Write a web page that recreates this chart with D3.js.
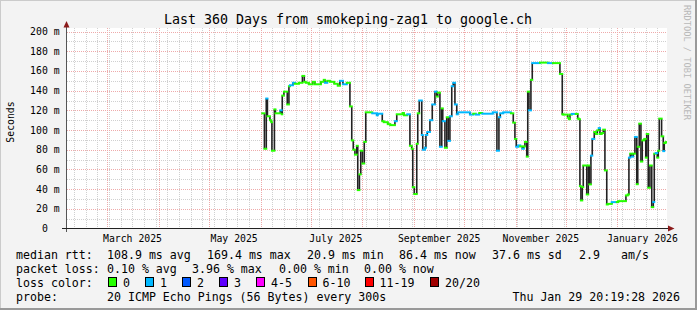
<!DOCTYPE html>
<html>
<head>
<meta charset="utf-8">
<script src="https://cdn.jsdelivr.net/npm/d3@7"></script>
<style>
html, body { margin: 0; padding: 0; background: #f3f3f3; }
svg text { font-family: "DejaVu Sans Mono", monospace; white-space: pre; }
</style>
</head>
<body>
<div id="chart"></div>
<script>
// median rtt steps, days after 2025-06-01 00:00 UTC
var stepDay = [0.6, 1.9, 3.0, 3.7, 5.2, 6.0, 6.4, 7.9, 8.5, 11.4, 12.3, 12.6, 13.6, 15.6, 16.6, 17.2, 19.0, 20.2, 22.6, 24.7,
    25.8, 26.7, 28.6, 30.9, 32.2, 35.8, 37.5, 38.2, 39.6, 41.2, 43.8, 45.9, 47.2, 49.0, 51.3, 53.2, 54.3, 55.2, 56.2, 57.3,
    57.9, 58.9, 59.7, 60.7, 61.8, 62.7, 66.6, 69.3, 69.9, 72.6, 73.5, 75.9, 77.4, 80.2, 81.3, 84.9, 85.6, 87.6, 89.2, 90.3,
    90.9, 91.8, 93.3, 93.9, 94.8, 96.3, 96.9, 98.2, 98.8, 99.6, 101.2, 102.6, 104.2, 105.3, 105.9, 107.2, 108.3, 108.9, 110.2, 111.3,
    112.2, 113.2, 114.3, 115.2, 116.2, 117.3, 117.9, 125.2, 127.2, 128.7, 130.8, 132.6, 138.9, 141.4, 142.6, 143.4, 145.2, 149.8, 151.2, 152.2,
    153.0, 154.2, 155.4, 156.6, 157.5, 158.2, 159.3, 159.9, 160.6, 161.8, 162.6, 167.2, 172.0, 175.0, 179.2, 180.6, 181.2, 183.9, 184.6, 185.2,
    186.3, 188.7, 189.9, 190.6, 191.2, 191.8, 192.6, 193.2, 195.3, 196.2, 196.8, 197.8, 198.6, 199.8, 200.7, 201.6, 202.5, 203.2, 204.3, 205.2,
    206.2, 207.3, 207.9, 210.3, 213.3, 214.2, 218.8, 219.9, 220.6, 221.4, 222.3, 223.2, 224.2, 225.3, 225.9, 226.8, 227.8, 228.6, 229.8, 230.7,
    231.3, 232.2, 233.2, 234.3, 235.2, 235.8, 236.7, 237.6, 238.2, 238.8, 240.2, 241.2, 241.8, 242.6];
var medianMs = [117, 81, 132, 114, 110, 108, 79, 121, 117, 120, 116, 135, 139, 126, 144.5, 145.5, 148, 147, 148, 155,
    149, 148, 146.5, 149, 146.5, 149, 151, 148, 150, 149, 147, 145, 150, 146.5, 148, 124, 89.5, 80, 75, 84,
    39, 55, 79, 66, 88, 118, 117, 115, 116.6, 109, 108, 106, 105, 109, 116, 117.3, 115, 116, 84, 81,
    42, 35, 86, 117, 130, 95, 80, 82, 95, 98, 110, 126, 139, 134, 138, 83, 122, 109, 82, 113,
    89, 114, 144.5, 148, 126, 116, 118, 115.7, 116.6, 115.7, 117.3, 116.6, 118, 79, 113, 117, 118, 117, 107.5, 91,
    83, 84.4, 83.4, 81, 83.4, 88, 73, 139, 120, 151, 168, 168.5, 168, 168, 157, 116, 115.7, 112.6, 111, 115.7,
    116.4, 116.4, 111.6, 111, 43, 28.5, 42, 64, 34.6, 64, 44.8, 74, 91, 98, 96, 99.7, 102, 96, 97, 100.4,
    59, 24.4, 25, 26.8, 26.8, 27.8, 33.6, 34.6, 72, 76, 73, 76, 93, 45, 83, 106.5, 68, 89.5, 91, 72,
    96, 41.4, 64, 21.7, 26.8, 76, 76.6, 72, 79, 111.6, 93.6, 78.6, 86.8, 87.8];
// loss bucket of each step (index into lossLabels)
var stepLoss = [0, 0, 1, 0, 0, 0, 0, 0, 0, 1, 0, 0, 0, 0, 0, 1, 1, 0, 0, 0,
    0, 0, 0, 0, 0, 0, 0, 1, 0, 0, 0, 0, 1, 1, 0, 0, 0, 0, 0, 0,
    0, 0, 0, 0, 0, 0, 1, 1, 1, 0, 0, 0, 0, 1, 0, 0, 0, 1, 0, 0,
    0, 0, 0, 0, 1, 1, 1, 1, 1, 1, 1, 1, 1, 0, 0, 1, 0, 1, 0, 0,
    1, 1, 1, 1, 1, 1, 1, 1, 0, 1, 0, 1, 1, 1, 1, 1, 1, 0, 0, 0,
    1, 1, 0, 1, 0, 0, 0, 0, 1, 0, 1, 0, 1, 0, 0, 0, 0, 0, 0, 0,
    1, 0, 0, 0, 0, 0, 0, 0, 0, 0, 0, 1, 1, 0, 0, 0, 1, 0, 0, 0,
    0, 0, 0, 1, 0, 0, 0, 0, 1, 0, 1, 0, 1, 0, 0, 0, 0, 0, 0, 0,
    0, 0, 0, 0, 1, 0, 1, 0, 0, 0, 0, 1, 0, 0];

var lossLabels = ["0", "1", "2", "3", "4-5", "6-10", "11-19", "20/20"];
var lossColors = ["#26ff00", "#00b8ff", "#0059ff", "#5e00ff", "#ff00ff", "#ff5500", "#ff0000", "#a00000"];
var yTicks = [0, 20, 40, 60, 80, 100, 120, 140, 160, 180, 200];

var title = "Last 360 Days from smokeping-zag1 to google.ch";
var rttStats = ["108.9 ms avg", "169.4 ms max", "20.9 ms min", "86.4 ms now", "37.6 ms sd", "2.9", "am/s"];
var lossStats = ["0.10 % avg", "3.96 % max", "0.00 % min", "0.00 % now"];
var probeText = "20 ICMP Echo Pings (56 Bytes) every 300s";
var stampText = "Thu Jan 29 20:19:28 2026";

var W = 697, H = 310;
var tEnd = new Date(Date.UTC(2026, 0, 29, 20, 19, 28));
var tStart = d3.utcDay.offset(tEnd, -360);
var day0 = Date.UTC(2025, 5, 1);

var x = d3.scaleUtc().domain([tStart, tEnd]).range([66, 666]);
var y = d3.scaleLinear().domain([0, 200]).range([228.5, 31.6]);

var svg = d3.select("#chart").append("svg")
    .attr("width", W)
    .attr("height", H);

// frame
svg.append("rect").attr("width", W).attr("height", H).attr("fill", "#f3f3f3");
svg.append("path").attr("d", "M0,309V0H697").attr("fill", "none").attr("stroke", "#cbcbcb").attr("stroke-width", 2);
svg.append("path").attr("d", "M0,309H696V0").attr("fill", "none").attr("stroke", "#999999").attr("stroke-width", 2);

// canvas
svg.append("rect").attr("x", 67).attr("y", 28).attr("width", 600).attr("height", 201).attr("fill", "#ffffff");

var grid = svg.append("g").attr("shape-rendering", "crispEdges");

// minor grid: weeks and 10 m
var weeks = d3.utcSunday.range(tStart, tEnd);
grid.selectAll(".vmin").data(weeks).enter().append("line")
    .attr("x1", function(d) { return Math.floor(x(d)) + 0.5; })
    .attr("x2", function(d) { return Math.floor(x(d)) + 0.5; })
    .attr("y1", 28).attr("y2", 228)
    .attr("stroke", "#d0d0d0").attr("stroke-dasharray", "1,1");
var minorY = d3.range(10, 200, 20);
grid.selectAll(".hmin").data(minorY).enter().append("line")
    .attr("x1", 67).attr("x2", 666)
    .attr("y1", function(d) { return Math.round(y(d)) + 0.5; })
    .attr("y2", function(d) { return Math.round(y(d)) + 0.5; })
    .attr("stroke", "#d0d0d0").attr("stroke-dasharray", "1,1");

// major grid: months and 20 m
var months = d3.utcMonth.range(tStart, tEnd);
grid.selectAll(".vmaj").data(months).enter().append("line")
    .attr("x1", function(d) { return Math.floor(x(d)) + 0.5; })
    .attr("x2", function(d) { return Math.floor(x(d)) + 0.5; })
    .attr("y1", 28).attr("y2", 228)
    .attr("stroke", "#eeaaaa").attr("stroke-dasharray", "1,1");
grid.selectAll(".hmaj").data(yTicks.slice(1)).enter().append("line")
    .attr("x1", 67).attr("x2", 666)
    .attr("y1", function(d) { return Math.round(y(d)) + 0.5; })
    .attr("y2", function(d) { return Math.round(y(d)) + 0.5; })
    .attr("stroke", "#eeaaaa").attr("stroke-dasharray", "1,1");

// rtt data
var pts = stepDay.map(function(d, i) {
    return { t: new Date(day0 + d * 864e5), v: medianMs[i], c: stepLoss[i] };
});
var plot = svg.append("g");
plot.selectAll(".vert").data(pts.slice(1)).enter().append("line")
    .attr("x1", function(d) { return x(d.t); })
    .attr("x2", function(d) { return x(d.t); })
    .attr("y1", function(d, i) { return y(pts[i].v); })
    .attr("y2", function(d) { return y(d.v); })
    .attr("stroke", "#222").attr("stroke-width", 1.6);
plot.selectAll(".hor").data(pts).enter().append("line")
    .attr("x1", function(d) { return x(d.t) - 1; })
    .attr("x2", function(d, i) { return (i < pts.length - 1 ? x(pts[i + 1].t) : x(tEnd)) + 1; })
    .attr("y1", function(d) { return y(d.v); })
    .attr("y2", function(d) { return y(d.v); })
    .attr("stroke", function(d) { return lossColors[d.c]; }).attr("stroke-width", 2);

// axes
var ax = svg.append("g").attr("shape-rendering", "crispEdges");
ax.append("line").attr("x1", 66.5).attr("x2", 66.5).attr("y1", 232).attr("y2", 25).attr("stroke", "#555");
ax.append("line").attr("x1", 62).attr("x2", 670).attr("y1", 228.5).attr("y2", 228.5).attr("stroke", "#222");
svg.append("path").attr("d", "M63.5,27.5L69.5,27.5L66.5,21Z").attr("fill", "#8b1a1a");
svg.append("path").attr("d", "M668,225.5L668,231.5L674.5,228.5Z").attr("fill", "#8b1a1a");

// y labels
svg.selectAll(".ylab").data(yTicks).enter().append("text")
    .attr("x", 59.6)
    .attr("y", function(d) { return y(d) + 3.5; })
    .attr("text-anchor", "end")
    .attr("font-size", "9.8px")
    .attr("fill", "#000")
    .text(function(d) { return d === 0 ? "0  " : d + " m"; });

// x labels every second month
var labMonths = months.filter(function(d) { return d.getUTCMonth() % 2 === 0; });
svg.selectAll(".xlab").data(labMonths).enter().append("text")
    .attr("x", function(d) { return x(new Date(+d + 14.75 * 864e5)); })
    .attr("y", 241.5)
    .attr("text-anchor", "middle")
    .attr("font-size", "9.8px")
    .text(d3.utcFormat("%B %Y"));

svg.append("text").attr("transform", "translate(13.5,122) rotate(-90)")
    .attr("text-anchor", "middle").attr("font-size", "9.8px").text("Seconds");

svg.append("text").attr("x", 348).attr("y", 23.5).attr("text-anchor", "middle")
    .attr("font-size", "13.3px").text(title);

svg.append("text").attr("transform", "translate(684,5) rotate(90)")
    .attr("font-size", "8.7px").attr("fill", "#b8b8b8").text("RRDTOOL / TOBI OETIKER");

// legend
var lg = svg.append("g").attr("font-size", "11.6px");
var rows = [258.5, 272.5, 286.5, 300.5];
lg.append("text").attr("x", 16).attr("y", rows[0]).text("median rtt:");
var rttX = [107, 207, 307, 399, 492, 579, 621];
rttStats.forEach(function(s, i) { lg.append("text").attr("x", rttX[i]).attr("y", rows[0]).text(s); });
lg.append("text").attr("x", 16).attr("y", rows[1]).text("packet loss:");
var lossX = [107, 192, 279, 364];
lossStats.forEach(function(s, i) { lg.append("text").attr("x", lossX[i]).attr("y", rows[1]).text(s); });
lg.append("text").attr("x", 16).attr("y", rows[2]).text("loss color:");
var swX = [108, 145, 182, 219, 256, 307.5, 364.5, 430];
lossLabels.forEach(function(s, i) {
    lg.append("rect").attr("x", swX[i] + 0.5).attr("y", 277.5).attr("width", 8).attr("height", 9)
        .attr("fill", lossColors[i]).attr("stroke", "#000").attr("shape-rendering", "crispEdges");
    lg.append("text").attr("x", swX[i] + 15).attr("y", rows[2]).text(s);
});
lg.append("text").attr("x", 16).attr("y", rows[3]).text("probe:");
lg.append("text").attr("x", 107).attr("y", rows[3]).text(probeText);
lg.append("text").attr("x", 680).attr("y", rows[3]).attr("text-anchor", "end").text(stampText);
</script>
</body>
</html>
